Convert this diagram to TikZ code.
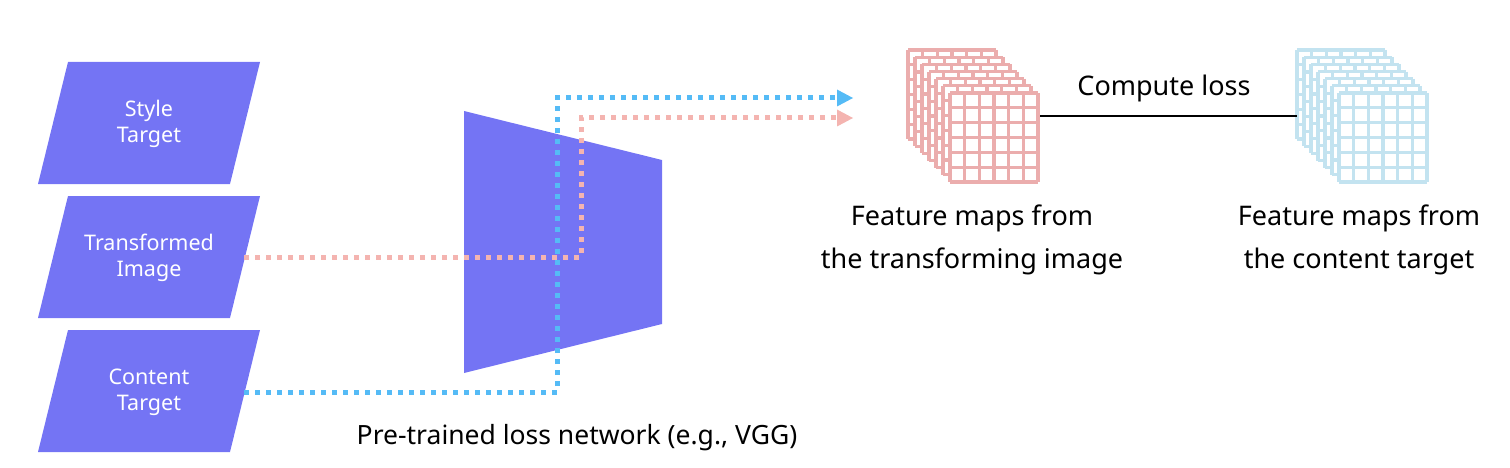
\documentclass[tikz,border=0pt]{standalone}
\usepackage{fontspec}
\setmainfont{Noto Sans}
\usetikzlibrary{arrows.meta,calc}
\definecolor{purp}{HTML}{7474F4}
\definecolor{bluedot}{HTML}{55BBF6}
\definecolor{pinkdot}{HTML}{F4B4B0}
\definecolor{pinkgrid}{HTML}{EBADAD}
\definecolor{bluegrid}{HTML}{C3E3F0}
\tikzset{
  inbox/.style={fill=purp,draw=none},
  intext/.style={text=white,font=\fontsize{21.5}{26}\selectfont,align=center},
  lbl/.style={font=\fontsize{27}{43}\selectfont,align=center,text=black},
  dotline/.style={line width=5pt,dash pattern=on 5pt off 6pt},
}
\newcommand{\fmgrid}[3]{% x y color
  \fill[white] (#1,#2) rectangle ++(88,89);
  \foreach \k in {0,...,6} {
    \draw[#3,line width=3.2pt] ($(#1,#2)+(14.667*\k,0)$) -- ++(0,89);
    \draw[#3,line width=3.2pt] ($(#1,#2)+(0,14.833*\k)$) -- ++(88,0);
  }
}
\begin{document}
\begin{tikzpicture}[x=1pt,y=-1pt]
\useasboundingbox (0,0) rectangle (1510,468);
% input parallelograms
\fill[inbox] (68,62) -- (260,62) -- (230,184) -- (38,184) -- cycle;
\fill[inbox] (68,196) -- (260,196) -- (230,318) -- (38,318) -- cycle;
\fill[inbox] (68,330) -- (260,330) -- (230,452) -- (38,452) -- cycle;
\node[intext] (style) at (149,124) {Style\\Target};
\node[intext] (trans) at (149,258) {Transformed\\Image};
\node[intext] (content) at (149,392) {Content\\Target};
% loss network
\fill[inbox] (464,111) -- (662,160) -- (662,324) -- (464,373) -- cycle;
\node[font=\fontsize{26.5}{30}\selectfont] (net) at (577,438) {Pre-trained loss network (e.g., VGG)};
% coordinates
\coordinate (tout) at (244,257);
\coordinate (cout) at (244,392);
\coordinate (tb1) at (581,257);
\coordinate (tb2) at (581,118);
\coordinate (tend) at (853,118);
\coordinate (tendb) at (839,118);
\coordinate (cb1) at (557,392);
\coordinate (cb2) at (557,98);
\coordinate (cend) at (853,98);
\coordinate (cendb) at (839,98);
% dotted connectors
\draw[dotline,pinkdot] (tout) -- (tb1) -- (tb2) -- (tendb);
\draw[dotline,bluedot] (cout) -- (cb1) -- (cb2) -- (cendb);
\fill[pinkdot] (tend) -- ++(-16,-8.5) -- ++(0,17) -- cycle;
\fill[bluedot] (cend) -- ++(-16,-8.5) -- ++(0,17) -- cycle;
% feature map stacks
\foreach \i in {0,...,6} {
  \fmgrid{908+7*\i}{50+7.17*\i}{pinkgrid}
}
\foreach \i in {0,...,6} {
  \fmgrid{1297+7*\i}{50+7.17*\i}{bluegrid}
}
\coordinate (fa) at (1040,116);
\coordinate (fb) at (1297,116);
\draw[black,line width=1.2pt] (fa) -- (fb);
\node[lbl] (loss) at (1164,88) {Compute loss};
\node[lbl] (l1) at (972,240) {Feature maps from\\the transforming image};
\node[lbl] (l2) at (1359,240) {Feature maps from\\the content target};
\end{tikzpicture}
\end{document}
